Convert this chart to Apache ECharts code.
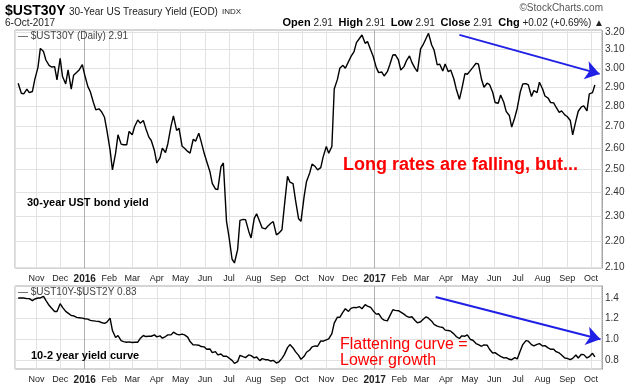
<!DOCTYPE html>
<html><head><meta charset="utf-8">
<script src="https://cdn.jsdelivr.net/npm/echarts@6/dist/echarts.min.js"></script>
<style>html,body{margin:0;padding:0;background:#fff}#c{width:640px;height:385px}</style>
</head><body><div id="c"></div>
<script>
// Twice-weekly (Fri / Tue) readings taken from the chart
const dates = [
 '2015-10-09','2015-10-13','2015-10-16','2015-10-20','2015-10-23','2015-10-27','2015-10-30','2015-11-03',
 '2015-11-06','2015-11-10','2015-11-13','2015-11-17','2015-11-20','2015-11-24','2015-11-27','2015-12-01',
 '2015-12-04','2015-12-08','2015-12-11','2015-12-15','2015-12-18','2015-12-22','2015-12-25','2015-12-29',
 '2016-01-01','2016-01-05','2016-01-08','2016-01-12','2016-01-15','2016-01-19','2016-01-22','2016-01-26','2016-01-29','2016-02-02',
 '2016-02-05','2016-02-09','2016-02-12','2016-02-16','2016-02-19','2016-02-23','2016-02-26','2016-03-01',
 '2016-03-04','2016-03-08','2016-03-11','2016-03-15','2016-03-18','2016-03-22','2016-03-25','2016-03-29',
 '2016-04-01','2016-04-05','2016-04-08','2016-04-12','2016-04-15','2016-04-19','2016-04-22','2016-04-26','2016-04-29','2016-05-03',
 '2016-05-06','2016-05-10','2016-05-13','2016-05-17','2016-05-20','2016-05-24','2016-05-27','2016-05-31',
 '2016-06-03','2016-06-07','2016-06-10','2016-06-14','2016-06-17','2016-06-21','2016-06-24','2016-06-28',
 '2016-07-01','2016-07-05','2016-07-08','2016-07-12','2016-07-15','2016-07-19','2016-07-22','2016-07-26','2016-07-29','2016-08-02',
 '2016-08-05','2016-08-09','2016-08-12','2016-08-16','2016-08-19','2016-08-23','2016-08-26','2016-08-30',
 '2016-09-02','2016-09-06','2016-09-09','2016-09-13','2016-09-16','2016-09-20','2016-09-23','2016-09-27','2016-09-30','2016-10-04',
 '2016-10-07','2016-10-11','2016-10-14','2016-10-18','2016-10-21','2016-10-25','2016-10-28','2016-11-01',
 '2016-11-04','2016-11-08','2016-11-11','2016-11-15','2016-11-18','2016-11-22','2016-11-25','2016-11-29',
 '2016-12-02','2016-12-06','2016-12-09','2016-12-13','2016-12-16','2016-12-20','2016-12-23','2016-12-27','2016-12-30','2017-01-03',
 '2017-01-06','2017-01-10','2017-01-13','2017-01-17','2017-01-20','2017-01-24','2017-01-27','2017-01-31',
 '2017-02-03','2017-02-07','2017-02-10','2017-02-14','2017-02-17','2017-02-21','2017-02-24','2017-02-28',
 '2017-03-03','2017-03-07','2017-03-10','2017-03-14','2017-03-17','2017-03-21','2017-03-24','2017-03-28','2017-03-31','2017-04-04',
 '2017-04-07','2017-04-11','2017-04-14','2017-04-18','2017-04-21','2017-04-25','2017-04-28','2017-05-02',
 '2017-05-05','2017-05-09','2017-05-12','2017-05-16','2017-05-19','2017-05-23','2017-05-26','2017-05-30',
 '2017-06-02','2017-06-06','2017-06-09','2017-06-13','2017-06-16','2017-06-20','2017-06-23','2017-06-27','2017-06-30','2017-07-04',
 '2017-07-07','2017-07-11','2017-07-14','2017-07-18','2017-07-21','2017-07-25','2017-07-28','2017-08-01',
 '2017-08-04','2017-08-08','2017-08-11','2017-08-15','2017-08-18','2017-08-22','2017-08-25','2017-08-29',
 '2017-09-01','2017-09-05','2017-09-08','2017-09-12','2017-09-15','2017-09-19','2017-09-22','2017-09-26','2017-09-29','2017-10-03',
 '2017-10-06'
];
const ust30 = [
 2.919,2.867,2.864,2.888,2.870,2.876,2.939,3.003,
 3.107,3.089,3.043,3.014,3.005,3.007,2.936,3.052,
 2.954,2.915,2.989,2.888,2.961,2.977,2.989,3.018,
 2.962,2.901,2.876,2.820,2.783,2.788,2.775,2.746,2.682,2.590,
 2.499,2.575,2.661,2.617,2.614,2.614,2.677,2.661,
 2.701,2.733,2.717,2.730,2.693,2.650,2.634,2.587,
 2.530,2.553,2.598,2.578,2.620,2.704,2.753,2.682,2.693,2.607,
 2.598,2.583,2.575,2.640,2.631,2.669,2.629,2.572,
 2.537,2.492,2.439,2.415,2.412,2.514,2.530,2.279,
 2.219,2.130,2.115,2.166,2.283,2.287,2.286,2.239,2.212,2.291,
 2.310,2.277,2.252,2.248,2.259,2.271,2.278,2.224,
 2.231,2.245,2.341,2.470,2.445,2.438,2.369,2.289,2.279,2.383,
 2.448,2.485,2.525,2.514,2.499,2.509,2.558,2.606,
 2.575,2.606,2.889,2.939,2.998,3.014,2.998,3.034,
 3.061,3.089,3.139,3.164,3.183,3.135,3.145,3.098,3.065,3.003,
 2.975,2.978,2.957,2.980,3.016,3.070,3.072,3.043,
 2.989,3.007,3.038,3.065,3.030,2.998,2.980,3.104,
 3.126,3.164,3.192,3.126,3.098,3.016,3.021,2.984,3.021,2.980,
 2.989,2.941,2.889,2.836,2.888,2.970,2.966,2.987,
 3.003,3.025,3.021,2.938,2.898,2.919,2.912,2.872,
 2.820,2.816,2.858,2.821,2.775,2.755,2.698,2.746,2.791,2.876,
 2.915,2.917,2.910,2.850,2.881,2.870,2.924,2.889,
 2.853,2.842,2.820,2.818,2.796,2.770,2.778,2.758,
 2.750,2.730,2.661,2.728,2.776,2.798,2.803,2.778,2.864,2.870,
 2.910
];
const curve = [
 1.400,1.400,1.400,1.394,1.394,1.374,1.390,1.400,
 1.400,1.416,1.377,1.329,1.303,1.270,1.270,1.345,
 1.309,1.270,1.254,1.231,1.228,1.212,1.209,1.205,
 1.199,1.196,1.183,1.179,1.176,1.173,1.163,1.154,1.167,1.205,
 1.085,1.017,1.037,0.988,0.978,0.972,0.975,0.969,
 0.972,0.972,1.008,1.037,1.027,1.030,1.030,1.043,
 1.024,1.034,1.011,1.027,1.043,1.043,1.069,1.050,1.043,1.050,
 1.043,1.021,0.978,0.946,0.946,0.943,0.930,0.927,
 0.904,0.907,0.871,0.881,0.849,0.858,0.836,0.836,
 0.820,0.797,0.768,0.784,0.845,0.832,0.823,0.849,0.842,0.820,
 0.829,0.794,0.813,0.803,0.803,0.790,0.797,0.771,
 0.781,0.816,0.852,0.920,0.949,0.917,0.881,0.845,0.807,0.836,
 0.875,0.897,0.927,0.936,0.933,0.985,0.982,0.995,
 1.004,1.056,1.157,1.215,1.212,1.264,1.296,1.270,
 1.299,1.309,1.306,1.316,1.296,1.335,1.322,1.309,1.277,1.244,
 1.248,1.202,1.186,1.179,1.225,1.286,1.280,1.277,
 1.264,1.244,1.225,1.212,1.218,1.183,1.160,1.170,
 1.192,1.218,1.205,1.176,1.144,1.128,1.121,1.115,1.089,1.085,
 1.079,1.053,1.027,1.008,1.034,1.030,1.043,0.998,
 0.991,0.959,0.949,0.933,0.946,0.943,0.904,0.868,
 0.871,0.849,0.836,0.820,0.823,0.807,0.803,0.823,0.810,0.891,
 0.949,0.988,0.982,0.949,0.936,0.952,0.959,0.936,
 0.939,0.917,0.904,0.904,0.881,0.868,0.849,0.820,
 0.816,0.803,0.816,0.849,0.820,0.855,0.852,0.820,0.832,0.865,
 0.830
];
const topTicks = [2.1,2.2,2.3,2.4,2.5,2.6,2.7,2.8,2.9,3.0,3.1,3.2];
const bottomTicks = [0.8,1.0,1.2,1.4];
const yearStarts = ['2016-01-01','2017-01-01'];
const monthNames = ['Jan','Feb','Mar','Apr','May','Jun','Jul','Aug','Sep','Oct','Nov','Dec'];
const topArrow = [['2017-04-18',3.183],['2017-10-12',2.968]];
const bottomArrow = [['2017-03-19',1.41],['2017-10-13',1.0]];

const FONT = '"Liberation Sans", Arial, sans-serif';
const chart = echarts.init(document.getElementById('c'), null, {renderer:'canvas'});

function monthLabel(v){
  const d = new Date(v);
  if (d.getDate() !== 1) return '';
  if (d.getMonth() === 0) return '{y|' + d.getFullYear() + '}';
  return monthNames[d.getMonth()];
}
const xAxisBase = {
  type: 'time', min: '2015-10-05', max: '2017-10-15',
  minInterval: 28*864e5, maxInterval: 31*864e5, splitNumber: 24,
  axisLine: {show:false}, axisTick: {show:false},
  splitLine: {show:true, lineStyle:{color:'#e2e2e2', width:1}},
  axisLabel: {formatter: monthLabel, color:'#222', fontSize: 9, fontFamily: FONT, margin: 6,
    rich: {y: {fontWeight:'bold', fontSize:10, color:'#222', fontFamily: FONT}}}
};
function gridLines(ticks, fmt){
  return ticks.map(v => ({yAxis: v, label:{formatter: fmt(v)}}));
}
const pairs30 = dates.map((d,i)=>[d, ust30[i]]);
const pairsCurve = dates.map((d,i)=>[d, curve[i]]);

const option = {
  animation: false,
  grid: [
    {left: 15, right: 38, top: 30, height: 238, show: true, borderColor: '#aaa', borderWidth: 1},
    {left: 15, right: 38, top: 286, height: 83, show: true, borderColor: '#aaa', borderWidth: 1}
  ],
  xAxis: [
    Object.assign({gridIndex:0}, xAxisBase),
    Object.assign({gridIndex:1}, xAxisBase)
  ],
  yAxis: [
    {gridIndex:0, type:'log', logBase:10, min:2.096, max:3.211, position:'right',
     axisLabel:{show:false}, splitLine:{show:false}, axisTick:{show:false},
     axisLine:{show:true, lineStyle:{color:'#999', type:'dotted'}}},
    {gridIndex:1, type:'value', min:0.713, max:1.516, position:'right',
     axisLabel:{show:false}, splitLine:{show:false}, axisTick:{show:false},
     axisLine:{show:true, lineStyle:{color:'#999', type:'dotted'}}}
  ],
  series: [
    {type:'line', xAxisIndex:0, yAxisIndex:0, data: [], silent:true, z:1,
     markLine:{silent:true, symbol:['none','none'], z:1, animation:false,
       lineStyle:{color:'#e2e2e2', type:'solid', width:1},
       label:{show:true, position:'end', distance:3, color:'#333', fontSize:10, fontFamily:FONT},
       emphasis:{disabled:true},
       data: gridLines(topTicks, v => v.toFixed(2)).concat(
         yearStarts.map(d => ({xAxis: d, lineStyle:{color:'#b0b0b0'}, label:{show:false}})))}},
    {type:'line', xAxisIndex:1, yAxisIndex:1, data: [], silent:true, z:1,
     markLine:{silent:true, symbol:['none','none'], z:1, animation:false,
       lineStyle:{color:'#e2e2e2', type:'solid', width:1},
       label:{show:true, position:'end', distance:3, color:'#333', fontSize:10, fontFamily:FONT},
       emphasis:{disabled:true},
       data: gridLines(bottomTicks, v => v.toFixed(1)).concat(
         yearStarts.map(d => ({xAxis: d, lineStyle:{color:'#b0b0b0'}, label:{show:false}})))}},
    {type:'line', name:'$UST30Y', xAxisIndex:0, yAxisIndex:0, data: pairs30, showSymbol:false, z:3,
     lineStyle:{color:'#000', width:1.4}, silent:true,
     markLine:{silent:true, symbol:['none','arrow'], symbolSize:14, animation:false,
       lineStyle:{color:'#1f1fe6', width:2, type:'solid'}, label:{show:false},
       data:[[{coord: topArrow[0]}, {coord: topArrow[1]}]]}},
    {type:'line', name:'$UST10Y-$UST2Y', xAxisIndex:1, yAxisIndex:1, data: pairsCurve, showSymbol:false, z:3,
     lineStyle:{color:'#000', width:1.4}, silent:true,
     markLine:{silent:true, symbol:['none','arrow'], symbolSize:14, animation:false,
       lineStyle:{color:'#1f1fe6', width:2, type:'solid'}, label:{show:false},
       data:[[{coord: bottomArrow[0]}, {coord: bottomArrow[1]}]]}}
  ],
  graphic: [
    {type:'text', x:5, y:11, style:{text:'$UST30Y', font:'bold 14px '+FONT, fill:'#000', textVerticalAlign:'middle'}},
    {type:'text', x:69, y:12, style:{text:'30-Year US Treasury Yield (EOD)', font:'10px '+FONT, fill:'#222', textVerticalAlign:'middle'}},
    {type:'text', x:222, y:12, style:{text:'INDX', font:'8px '+FONT, fill:'#222', textVerticalAlign:'middle'}},
    {type:'text', x:5, y:23, style:{text:'6-Oct-2017', font:'10px '+FONT, fill:'#222', textVerticalAlign:'middle'}},
    {type:'text', x:603, y:8, style:{text:'©StockCharts.com', font:'10px '+FONT, fill:'#555', textAlign:'right', textVerticalAlign:'middle'}},
    {type:'text', x:604, y:23, style:{text:'{b|Open} 2.91  {b|High} 2.91  {b|Low} 2.91  {b|Close} 2.91  {b|Chg} +0.02 (+0.69%) ▲',
      font:'10px '+FONT, fill:'#222', textAlign:'right', textVerticalAlign:'middle',
      rich:{b:{font:'bold 11px '+FONT, fill:'#000'}}}},
    {type:'text', x:18, y:36, z:10, style:{text:'— $UST30Y (Daily) 2.91', font:'10px '+FONT, fill:'#444', textVerticalAlign:'middle'}},
    {type:'text', x:18, y:292, z:10, style:{text:'— $UST10Y-$UST2Y 0.83', font:'10px '+FONT, fill:'#444', textVerticalAlign:'middle'}},
    {type:'text', x:27, y:203, z:10, style:{text:'30-year UST bond yield', font:'bold 11px '+FONT, fill:'#000', textVerticalAlign:'middle'}},
    {type:'text', x:343, y:165, z:10, style:{text:'Long rates are falling, but...', font:'bold 18px '+FONT, fill:'#ff0000', textVerticalAlign:'middle'}},
    {type:'text', x:340, y:345, z:10, style:{text:'Flattening curve =', font:'16px '+FONT, fill:'#ff0000', textVerticalAlign:'middle'}},
    {type:'text', x:340, y:361, z:10, style:{text:'Lower growth', font:'16px '+FONT, fill:'#ff0000', textVerticalAlign:'middle'}},
    {type:'text', x:31, y:356, z:10, style:{text:'10-2 year yield curve', font:'bold 11px '+FONT, fill:'#000', textVerticalAlign:'middle'}}
  ]
};
chart.setOption(option);
</script></body></html>
